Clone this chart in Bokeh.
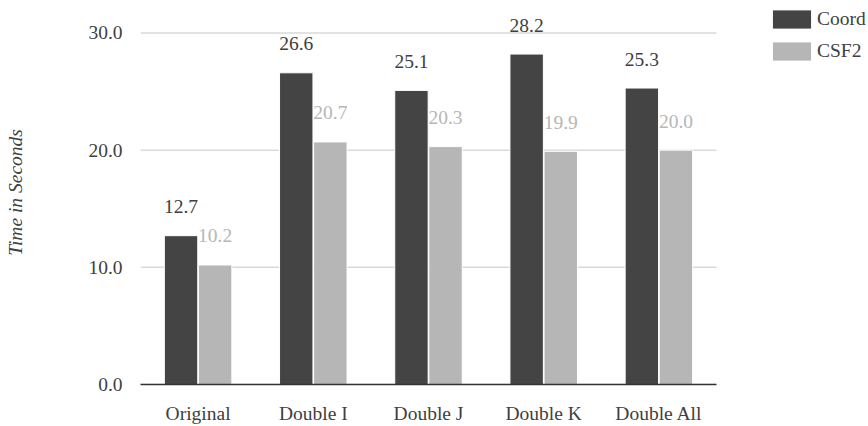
from bokeh.plotting import figure
from bokeh.models import (ColumnDataSource, FixedTicker, Legend, LegendItem,
                          Range1d, CustomJSTickFormatter)
from bokeh.core.properties import value
from bokeh.embed import file_html
from bokeh.resources import INLINE

categories = ["Original", "Double I", "Double J", "Double K", "Double All"]
coord = [12.7, 26.6, 25.1, 28.2, 25.3]
csf2 = [10.2, 20.7, 20.3, 19.9, 20.0]
y_ticks = [0, 10, 20, 30]

FONT = "Liberation Serif"
FS = "19.5px"
TEXT = "#404040"
DARK = "#444444"
LIGHT = "#b6b6b6"

# group centres on a numeric axis, labelled with the category names
n = len(categories)
centers = [i + 0.5 for i in range(n)]
bw = 0.29
off = 0.148

src = ColumnDataSource(dict(
    xc=[c - off for c in centers],
    xs=[c + off for c in centers],
    coord=coord,
    csf2=csf2,
    coord_lbl=[f"{v:.1f}" for v in coord],
    csf2_lbl=[f"{v:.1f}" for v in csf2],
))

frame_w = 868 - 140
group_px = 115.2
p = figure(
    x_range=Range1d(0, frame_w / group_px),
    y_range=Range1d(0, 32.77),
    width=868, height=426,
    output_backend="svg", toolbar_location=None,
    min_border_left=140, min_border_right=0,
    min_border_top=0, min_border_bottom=0,
)
p.outline_line_color = None
p.grid.visible = False

# horizontal grid lines, only across the category area
p.segment(x0=[0] * len(y_ticks), x1=[n] * len(y_ticks), y0=y_ticks, y1=y_ticks,
          line_color="#d9d9d9", line_width=1.5)

r1 = p.vbar(x="xc", top="coord", width=bw, source=src,
            fill_color=DARK, line_color="white", line_width=1)
r2 = p.vbar(x="xs", top="csf2", width=bw, source=src,
            fill_color=LIGHT, line_color="white", line_width=1)

p.text(x="xc", y="coord", text="coord_lbl", source=src,
       text_font=value(FONT), text_font_size=FS, text_color=TEXT,
       text_align="center", text_baseline="middle", y_offset=-29)
p.text(x="xs", y="csf2", text="csf2_lbl", source=src,
       text_font=value(FONT), text_font_size=FS, text_color=LIGHT,
       text_align="center", text_baseline="middle", y_offset=-29)

# y axis
p.yaxis.ticker = FixedTicker(ticks=y_ticks)
p.yaxis.formatter = CustomJSTickFormatter(code="return tick.toFixed(1);")
p.yaxis.axis_line_color = None
p.yaxis.major_tick_line_color = None
p.yaxis.minor_tick_line_color = None
p.yaxis.major_label_text_font = FONT
p.yaxis.major_label_text_font_size = FS
p.yaxis.major_label_text_color = TEXT
p.yaxis.major_label_standoff = 12
p.yaxis.axis_label = "Time in Seconds"
p.yaxis.axis_label_text_font = FONT
p.yaxis.axis_label_text_font_style = "italic"
p.yaxis.axis_label_text_font_size = "19.5px"
p.yaxis.axis_label_text_color = TEXT
p.yaxis.axis_label_standoff = 59

# x axis
p.xaxis.ticker = FixedTicker(ticks=centers)
p.xaxis.major_label_overrides = {c: name for c, name in zip(centers, categories)}
p.xaxis.bounds = (0, n)
p.xaxis.axis_line_color = "#333333"
p.xaxis.axis_line_width = 1.5
p.xaxis.major_tick_line_color = None
p.xaxis.minor_tick_line_color = None
p.xaxis.major_label_text_font = FONT
p.xaxis.major_label_text_font_size = FS
p.xaxis.major_label_text_color = TEXT
p.xaxis.major_label_standoff = 12

legend = Legend(
    items=[LegendItem(label="Coord", renderers=[r1]),
           LegendItem(label="CSF2", renderers=[r2])],
    location=(627, 321),
    glyph_width=49, glyph_height=24, label_height=24,
    label_text_font=FONT, label_text_font_size=FS,
    label_text_color=TEXT, label_standoff=1,
    spacing=8, padding=0, margin=0,
    border_line_color=None, background_fill_alpha=0,
)
p.add_layout(legend, "center")

open("out.html", "w").write(file_html(p, INLINE))
